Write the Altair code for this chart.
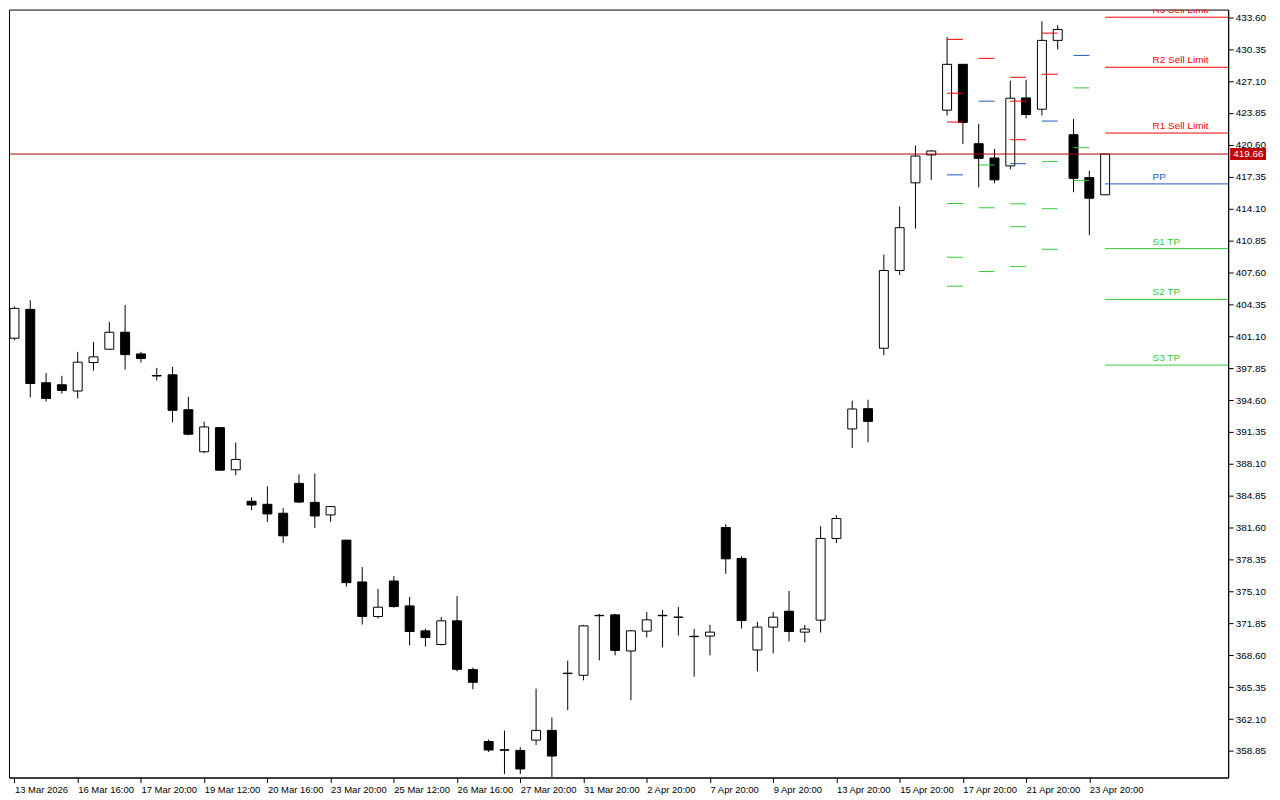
import altair as alt
import pandas as pd

# ---------------- data ----------------
idx = list(range(70))
opens = [400.90, 403.84, 396.36, 396.16, 395.52, 398.42, 399.78, 401.51, 399.30, 397.10,
         397.17, 393.62, 389.33, 391.79, 387.50, 384.29, 383.98, 383.07, 386.11, 384.18,
         382.90, 380.33, 376.07, 372.55, 376.17, 373.63, 371.09, 369.70, 372.11, 367.14,
         359.82, 358.98, 358.91, 359.96, 360.95, 366.78, 366.56, 372.67, 372.72, 369.04,
         371.06, 372.67, 372.49, 370.54, 370.56, 381.62, 378.47, 369.14, 371.47, 373.09,
         370.96, 372.18, 380.50, 391.66, 393.72, 399.88, 407.80, 416.73, 419.57, 424.13,
         428.80, 420.71, 419.26, 418.45, 425.38, 424.23, 431.24, 421.63, 417.26, 415.51]
highs = [404.14, 404.78, 397.34, 397.07, 399.51, 400.52, 402.55, 404.28, 399.51, 397.88,
         397.98, 394.94, 392.40, 391.85, 390.27, 384.69, 385.81, 383.58, 387.03, 387.13,
         383.75, 380.35, 377.59, 375.36, 376.67, 374.54, 371.30, 372.51, 374.65, 367.34,
         360.03, 360.94, 359.22, 365.21, 362.27, 368.05, 371.70, 372.82, 372.82, 371.19,
         373.02, 373.23, 373.53, 371.30, 371.70, 381.95, 378.70, 372.01, 373.03, 375.15,
         371.70, 381.75, 382.86, 394.53, 394.64, 409.42, 414.32, 420.54, 420.07, 431.57,
         428.80, 422.74, 420.18, 427.14, 427.21, 433.19, 432.79, 423.22, 417.97, 419.66]
lows = [400.70, 394.87, 394.46, 395.27, 394.77, 397.61, 399.70, 397.71, 398.42, 396.59,
        392.33, 391.01, 389.19, 387.40, 386.95, 383.40, 382.19, 380.05, 384.11, 381.58,
        382.19, 375.59, 371.73, 372.34, 373.46, 369.60, 369.50, 369.60, 366.96, 365.14,
        358.75, 356.51, 356.51, 359.46, 356.21, 363.01, 366.05, 368.08, 368.59, 364.02,
        370.42, 369.40, 370.62, 366.43, 368.59, 376.91, 371.33, 366.96, 368.79, 370.01,
        369.91, 370.92, 380.05, 389.73, 390.30, 399.17, 407.35, 412.06, 417.03, 423.58,
        420.68, 416.28, 416.69, 418.11, 423.28, 423.58, 430.32, 415.77, 411.41, 415.51]
closes = [403.94, 396.29, 394.77, 395.58, 398.46, 399.00, 401.51, 399.23, 398.83, 397.05,
          393.55, 391.12, 391.86, 387.46, 388.55, 383.91, 383.00, 380.77, 384.21, 382.79,
          383.75, 376.00, 372.55, 373.50, 373.56, 371.02, 370.41, 372.11, 367.17, 365.85,
          358.95, 358.93, 357.02, 360.95, 358.34, 366.74, 371.60, 372.63, 369.10, 371.09,
          372.21, 372.63, 372.47, 370.50, 370.96, 378.43, 372.14, 371.47, 372.48, 371.02,
          371.27, 380.50, 382.53, 393.69, 392.43, 407.80, 412.16, 419.46, 419.97, 428.80,
          422.87, 419.22, 417.03, 425.35, 423.69, 431.24, 432.35, 417.19, 415.16, 419.66]

x_tick_pos = [0, 4, 8, 12, 16, 20, 24, 28, 32, 36, 40, 44, 48, 52, 56, 60, 64, 68]
x_tick_labels = ["13 Mar 2026", "16 Mar 16:00", "17 Mar 20:00", "19 Mar 12:00", "20 Mar 16:00",
                 "23 Mar 20:00", "25 Mar 12:00", "26 Mar 16:00", "27 Mar 20:00", "31 Mar 20:00",
                 "2 Apr 20:00", "7 Apr 20:00", "9 Apr 20:00", "13 Apr 20:00", "15 Apr 20:00",
                 "17 Apr 20:00", "21 Apr 20:00", "23 Apr 20:00"]
y_ticks = [433.60, 430.35, 427.10, 423.85, 420.60, 417.35, 414.10, 410.85, 407.60, 404.35,
           401.10, 397.85, 394.60, 391.35, 388.10, 384.85, 381.60, 378.35, 375.10, 371.85,
           368.60, 365.35, 362.10, 358.85]

# daily pivot dashes (previous days)
pv_start = [59, 61, 63, 65, 67]
pv_end = [60, 62, 64, 66, 68]
pv_R3 = [431.34, 440.27, 427.48, 436.75, 445.20]
pv_R2 = [425.86, 435.91, 425.05, 431.98, 439.11]
pv_R1 = [422.92, 429.41, 421.12, 427.79, 435.80]
pv_PP = [417.54, 425.05, 418.68, 423.02, 429.71]
pv_S1 = [414.62, 418.55, 414.59, 418.89, 426.40]
pv_S2 = [409.15, 414.19, 412.26, 414.09, 420.31]
pv_S3 = [406.20, 407.69, 408.20, 409.96, 416.96]

# current day levels
cur_names = ["R3", "R2", "R1", "PP", "S1", "S2", "S3"]
cur_values = [433.60, 428.50, 421.80, 416.62, 410.03, 404.85, 398.16]
cur_labels = ["R3 Sell Limit", "R2 Sell Limit", "R1 Sell Limit", "PP", "S1 TP", "S2 TP", "S3 TP"]
cur_start = 69
cur_label_at = 72

last_price = 419.66
last_price_text = "419.66"

# ---------------- layout ----------------
W, H = 1224, 771
X0 = -0.03125
xdom = [X0, X0 + W / 16]
ydom = [356.15, 434.38]
FONT = "Liberation Sans"

df = pd.DataFrame(dict(i=idx, o=opens, h=highs, l=lows, c=closes))
df["dir"] = ["up" if c >= o else "down" for o, c in zip(opens, closes)]

pv_rows = []
for j in range(len(pv_start)):
    for name, arr in [("R3", pv_R3), ("R2", pv_R2), ("R1", pv_R1), ("PP", pv_PP),
                      ("S1", pv_S1), ("S2", pv_S2), ("S3", pv_S3)]:
        pv_rows.append(dict(x=pv_start[j], x2=pv_end[j], v=arr[j], kind=name[0]))
pv_df = pd.DataFrame(pv_rows)

cur_df = pd.DataFrame(dict(name=cur_names, v=cur_values, label=cur_labels))
cur_df["kind"] = cur_df["name"].str[0]
cur_df["x"] = cur_start
cur_df["x2"] = xdom[1] + 1
cur_df["xl"] = cur_label_at

price_df = pd.DataFrame(dict(p=[last_price], t=[last_price_text]))

xs = alt.Scale(domain=xdom, nice=False, zero=False)
ys = alt.Scale(domain=ydom, nice=False, zero=False)
kind_color = alt.Scale(domain=["R", "P", "S"], range=["#FF0000", "#1E56C8", "#32CD32"])

label_expr = "[" + ",".join("'" + s + "'" for s in x_tick_labels) + "][round(datum.value/4)]"

x_axis = alt.Axis(values=x_tick_pos, labelExpr=label_expr, title=None, labelAlign="left",
                  labelPadding=2, tickSize=5, labelOverlap=False, labelBound=False,
                  labelFontSize=9.5, labelFlush=False)
y_axis = alt.Axis(values=y_ticks, format=".2f", orient="right", title=None, tickSize=5,
                  labelPadding=2, labelOverlap=False, labelFontSize=10)


def X(field):
    return alt.X(field, scale=xs, axis=x_axis, title=None)


def Y(field):
    return alt.Y(field, scale=ys, axis=y_axis, title=None)


wicks = alt.Chart(df).mark_rule(color="black", strokeWidth=1, clip=True).encode(
    x=X("i:Q"), y=Y("l:Q"), y2="h:Q",
)
bodies = alt.Chart(df).mark_bar(size=9, stroke="black", strokeWidth=1, clip=True).encode(
    x=X("i:Q"), y=Y("o:Q"), y2="c:Q",
    fill=alt.Fill("dir:N", scale=alt.Scale(domain=["up", "down"], range=["white", "black"]), legend=None),
)
dashes = alt.Chart(pv_df).mark_rule(strokeWidth=1, clip=True).encode(
    x=X("x:Q"), x2="x2:Q", y=Y("v:Q"),
    color=alt.Color("kind:N", scale=kind_color, legend=None),
)
cur_lines = alt.Chart(cur_df).mark_rule(strokeWidth=1, clip=True).encode(
    x=X("x:Q"), x2="x2:Q", y=Y("v:Q"),
    color=alt.Color("kind:N", scale=kind_color, legend=None),
)
cur_text = alt.Chart(cur_df).mark_text(align="left", baseline="bottom", dy=-2, font=FONT,
                                       fontSize=10, clip=True).encode(
    x=X("xl:Q"), y=Y("v:Q"), text="label:N",
    color=alt.Color("kind:N", scale=kind_color, legend=None),
)
price_line = alt.Chart(price_df).mark_rule(color="#B00000", strokeWidth=1).encode(
    y=Y("p:Q"),
)
price_box = alt.Chart(price_df).mark_rule(color="#C00000", strokeWidth=12, clip=False).encode(
    x=alt.value(W + 2), x2=alt.value(W + 38), y=Y("p:Q"),
)
price_text = alt.Chart(price_df).mark_text(align="left", baseline="middle", color="white",
                                           font=FONT, fontSize=10, clip=False).encode(
    x=alt.value(W + 5), y=Y("p:Q"), text="t:N",
)

chart = alt.layer(
    wicks, bodies, dashes, cur_lines, cur_text, price_line, price_box, price_text
).properties(
    width=W, height=H, padding=0, background="white"
).configure_view(
    stroke="black", strokeWidth=1
).configure_axis(
    labelFont=FONT, labelColor="black", tickColor="black", domainColor="black",
    grid=False, domainWidth=1, tickWidth=1
)

chart.save("out.html", embed_options={"renderer": "svg", "actions": False})
